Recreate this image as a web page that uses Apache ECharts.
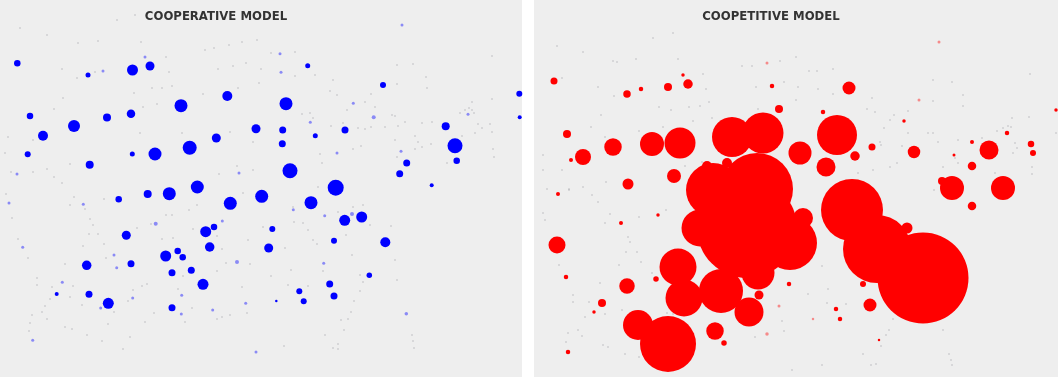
<!DOCTYPE html>
<html>
<head>
<meta charset="utf-8">
<style>
  html, body { margin: 0; padding: 0; background: #ffffff; }
  #chart { width: 1062px; height: 377px; }
</style>
<script src="https://cdn.jsdelivr.net/npm/echarts@6/dist/echarts.min.js"></script>
</head>
<body>
<div id="chart"></div>
<script>
// Panel titles
const panelTitles = ['COOPERATIVE MODEL', 'COOPETITIVE MODEL'];

// Cooperative model: main nodes as [x, y, diameter]
const cooperativeNodes = [
  [17.3,63.3,6.5],[88,75,5],[132.5,70,11],[150,66,9],[227.3,96,10],[181,105.7,13],[30,116,6.5],[107,117.5,8],
  [131,113.7,8.5],[74,126,12],[43,135.7,10],[256,128.7,9],[216.3,138,9],[189.7,147.7,14],[155,154,13],[27.7,154.3,6],
  [132.3,154,5],[89.7,164.7,8],[197.3,187,13],[307.7,65.7,5],[383,85,6],[519.3,93.7,6],[286,103.7,13],[519.7,117.3,4],
  [282.7,130,7],[315.3,135.7,5],[345,130,7],[282.3,143.7,7],[445.7,126.3,8],[455,145.7,15],[456.7,160.7,6.5],[406.7,163,7],
  [399.7,173.7,7],[290,170.7,15],[335.7,187.7,16],[431.7,185.3,4],[118.7,199.3,6.5],[147.7,194,8],[169.3,193.7,13],
  [230.3,203.3,13],[261.7,196.3,13],[126.3,235.3,9],[205.7,231.7,11],[214,227,6.5],[209.7,247,9.5],[177.7,251,6.5],
  [165.7,256,11],[182.7,257.3,6.5],[131,263.7,7],[86.7,265.3,9.5],[191.3,270.3,7],[172,272.7,7],[203,284.3,11],
  [89,294.3,7],[108.3,303.3,11],[172,307.7,7],[56.7,294,4],[311,202.7,13],[344.7,220.3,11],[361.7,217,11],[385.3,242.3,10],
  [334,240.7,6],[272.3,229,6],[268.7,248,9],[369.3,275.3,5.5],[329.7,284,7],[334,296,7],[299.3,291.3,6],[303.7,301.3,6],
  [276.3,301,2.5]
];

// Cooperative model: faint low-weight nodes as [x, y, diameter]
const cooperativeFaint = [
  [402,25,3],[280,53.7,3],[281,72.3,3],[373.7,117.3,4],[353.3,103.3,3],[310.3,122.3,3],[337,153,3],[401,151.3,3],[468,114.3,3],
  [155.7,223.7,4],[9,203,3],[83.3,204.3,3],[22.7,247.3,3],[114,255,3],[116.7,267.7,3],[62.3,282.3,3],[132.7,298,3],[100.7,308,3],
  [32.7,340.3,3],[181.7,295.3,3],[181.3,314,3],[212.7,310,3],[245.7,303.3,3],[237,262,4],[222.3,221,3],[256,352,3],[352,214,4],
  [323.7,263.3,3],[406.3,313.7,3.5],[293.3,209.7,3],[324.7,215.7,3],[145,57,3],[103,71,3],[239,173,3],[17,174,3]
];

// Cooperative model: isolated specks as [x, y]
const cooperativeSpecks = [
  [20,28],[47,35],[78,43],[98,41],[117,20],[135,15],[141,42],[166,57],[205,50],[214,48],[229,45],[242,42],[257,40],[246,63],[233,66],
  [218,69],[261,69],[169,72],[62,69],[77,78],[95,72],[63,98],[54,109],[134,93],[152,88],[162,88],[172,86],[203,94],[143,107],[157,104],
  [238,88],[259,83],[140,133],[182,133],[230,132],[253,142],[8,137],[33,140],[5,153],[70,164],[11,172],[33,172],[47,169],[54,177],[62,183],
  [219,174],[253,170],[237,166],[271,53],[295,52],[295,76],[315,75],[333,80],[330,91],[337,95],[371,94],[397,65],[413,64],[397,84],[426,77],
  [427,88],[492,56],[492,99],[472,102],[465,110],[469,108],[472,110],[474,113],[460,113],[302,114],[310,113],[313,118],[347,110],[365,102],
  [375,107],[392,115],[395,116],[405,122],[398,126],[385,127],[371,127],[365,129],[358,128],[343,123],[331,126],[422,123],[432,122],[478,124],
  [482,128],[475,133],[490,124],[492,132],[415,136],[418,142],[422,147],[395,140],[431,144],[361,146],[353,149],[320,154],[322,163],[397,157],
  [415,149],[447,163],[462,136],[493,149],[494,157],[318,187],[6,194],[12,218],[18,239],[28,258],[74,197],[70,205],[85,209],[104,199],[90,219],
  [93,225],[89,234],[98,234],[104,244],[83,246],[106,258],[65,264],[37,278],[37,285],[52,287],[73,286],[50,299],[70,297],[45,306],[82,305],
  [42,312],[32,315],[47,319],[30,323],[65,327],[72,329],[29,331],[87,335],[102,341],[108,324],[130,337],[123,349],[114,312],[128,301],[133,290],
  [142,286],[147,284],[154,313],[145,322],[137,228],[151,224],[162,239],[173,238],[166,215],[172,215],[189,210],[197,205],[193,229],[217,236],
  [222,249],[226,263],[250,264],[217,271],[183,276],[178,289],[192,308],[185,322],[217,319],[222,317],[230,315],[247,313],[242,287],[248,240],
  [243,193],[263,227],[293,207],[303,223],[308,230],[294,222],[313,240],[317,244],[285,248],[338,212],[353,207],[363,205],[346,235],[370,225],
  [391,226],[352,255],[395,260],[397,280],[291,270],[271,276],[323,271],[360,275],[363,282],[360,291],[308,286],[288,285],[354,301],[351,312],
  [348,319],[341,320],[344,330],[325,335],[333,348],[338,344],[338,349],[284,346],[412,335],[413,341],[414,348]
];

// Coopetitive model: main nodes as [x, y, diameter]
const competitiveNodes = [
  [554,81,7],[627,94,7.5],[641,89,4.5],[668,87,8],[688,84,9.5],[683,75,3.5],[772,86,4.5],[779,109,8],[567,134,8],[583,157,16],
  [571,160,4],[613,147,17.5],[652,144,24],[680,143,31],[732,137,40],[763,133,41],[727,163,10],[674,176,14],[628,184,11],
  [849,88,13],[823,112,4.5],[837,135,40],[800,153,23],[855,156,9.5],[872,147,7],[826,167,19],[914,152,12.5],[904,121,3.5],
  [1007,133,4.5],[972,142,4],[989,150,19],[1031,144,6.5],[1033,153,6],[1056,110,3.5],[954,155,3],[972,166,8.5],[952,188,24],
  [942,181,8],[1003,188,24],[972,206,8.5],[852,210,62],[877,249,68],[923,278,91],[907,228,11],[863,284,6],[870,305,13],
  [836,309,4.5],[840,319,4.5],[879,340,2.5],[558,194,4],[658,215,3.5],[621,223,4],[557,245,17],[566,277,4.5],[678,267,37],
  [656,279,5.5],[627,286,15.5],[684,298,37],[721,291,44],[789,284,4.5],[602,303,8],[594,312,3.5],[749,312,29],[638,325,30],
  [668,344,56],[715,331,17.5],[724,343,5.5],[568,352,4.5],[713,190,54],[707,166,10],[757,189,72],[700,228,37],[790,243,54],
  [803,218,20],[747,228,100],[758,273,33],[759,295,9]
];

// Coopetitive model: faint low-weight nodes as [x, y, diameter]
const competitiveFaint = [
  [767,63,3],[919,100,3],[939,42,3],[813,319,2.5],[779,306,3],[767,334,3.5]
];

// Coopetitive model: isolated specks as [x, y]
const competitiveSpecks = [
  [557,46],[583,52],[613,61],[617,62],[636,59],[653,38],[673,33],[678,59],[703,74],[706,89],[689,107],[700,106],[709,102],[712,118],[693,121],
  [671,110],[663,127],[659,107],[639,131],[614,96],[598,87],[601,115],[591,127],[605,137],[562,78],[543,155],[543,170],[562,170],[606,182],
  [583,187],[547,189],[569,189],[742,66],[752,66],[780,61],[756,87],[784,82],[758,109],[685,166],[702,162],[796,57],[809,71],[817,71],[833,69],
  [798,87],[818,89],[833,94],[796,100],[872,98],[867,109],[875,112],[908,111],[890,120],[894,115],[884,128],[880,142],[881,145],[908,133],
  [928,133],[933,133],[938,142],[933,80],[952,82],[963,95],[963,106],[933,101],[1030,74],[1029,117],[1056,133],[1012,118],[1008,126],[1011,127],
  [1003,128],[997,131],[1015,143],[1017,148],[1013,153],[1032,167],[1032,174],[995,173],[958,140],[982,138],[955,158],[958,163],[890,167],
  [873,170],[858,173],[902,146],[943,167],[897,163],[543,213],[545,220],[569,190],[592,195],[598,202],[605,223],[610,214],[639,217],[666,210],
  [628,237],[630,242],[626,252],[641,262],[619,265],[637,252],[559,265],[600,283],[652,273],[573,295],[573,302],[589,302],[605,314],[585,317],
  [578,330],[568,333],[582,336],[566,342],[603,345],[608,347],[625,354],[639,357],[622,310],[782,321],[784,331],[755,337],[792,370],[667,313],
  [673,314],[822,266],[828,289],[808,294],[827,303],[846,304],[893,319],[889,330],[943,330],[881,346],[863,354],[822,365],[871,365],[876,364],
  [949,354],[952,365],[951,360],[934,190],[886,335]
];

const PANEL_FILL = '#eeeeee';
const BLUE = '#0000ff';
const RED = '#ff0000';
const SPECK = '#8c8c96';

// One hidden value-axis pair per panel, y running downward
const hiddenX = (gridIndex, min, max) => ({ type: 'value', gridIndex, min, max, show: false });
const hiddenY = (gridIndex) => ({ type: 'value', gridIndex, min: 0, max: 377, inverse: true, show: false });

// Three layers per panel: specks, faint nodes, main nodes
function panelSeries(axisIndex, specks, faint, nodes, color) {
  const base = { type: 'scatter', xAxisIndex: axisIndex, yAxisIndex: axisIndex, silent: true };
  return [
    { ...base, data: specks, symbolSize: 1.8, itemStyle: { color: SPECK, opacity: 0.35 } },
    { ...base, data: faint, symbolSize: v => v[2], itemStyle: { color, opacity: 0.42 } },
    { ...base, data: nodes, symbolSize: v => v[2], itemStyle: { color, opacity: 1 } }
  ];
}

const titleStyle = { fontFamily: 'DejaVu Sans, sans-serif', fontWeight: 'bold', fontSize: 11.7, color: '#333333' };

const chart = echarts.init(document.getElementById('chart'), null, { renderer: 'canvas' });
chart.setOption({
  animation: false,
  backgroundColor: '#ffffff',
  title: [
    { text: panelTitles[0], left: 216, top: 11, textAlign: 'center', padding: 0, textStyle: titleStyle },
    { text: panelTitles[1], left: 771, top: 11, textAlign: 'center', padding: 0, textStyle: titleStyle }
  ],
  grid: [
    { left: 0, top: 0, width: 522, height: 377, show: true, backgroundColor: PANEL_FILL, borderWidth: 0 },
    { left: 534, top: 0, width: 524, height: 377, show: true, backgroundColor: PANEL_FILL, borderWidth: 0 }
  ],
  xAxis: [hiddenX(0, 0, 522), hiddenX(1, 534, 1058)],
  yAxis: [hiddenY(0), hiddenY(1)],
  series: [
    ...panelSeries(0, cooperativeSpecks, cooperativeFaint, cooperativeNodes, BLUE),
    ...panelSeries(1, competitiveSpecks, competitiveFaint, competitiveNodes, RED)
  ]
});
</script>
</body>
</html>
